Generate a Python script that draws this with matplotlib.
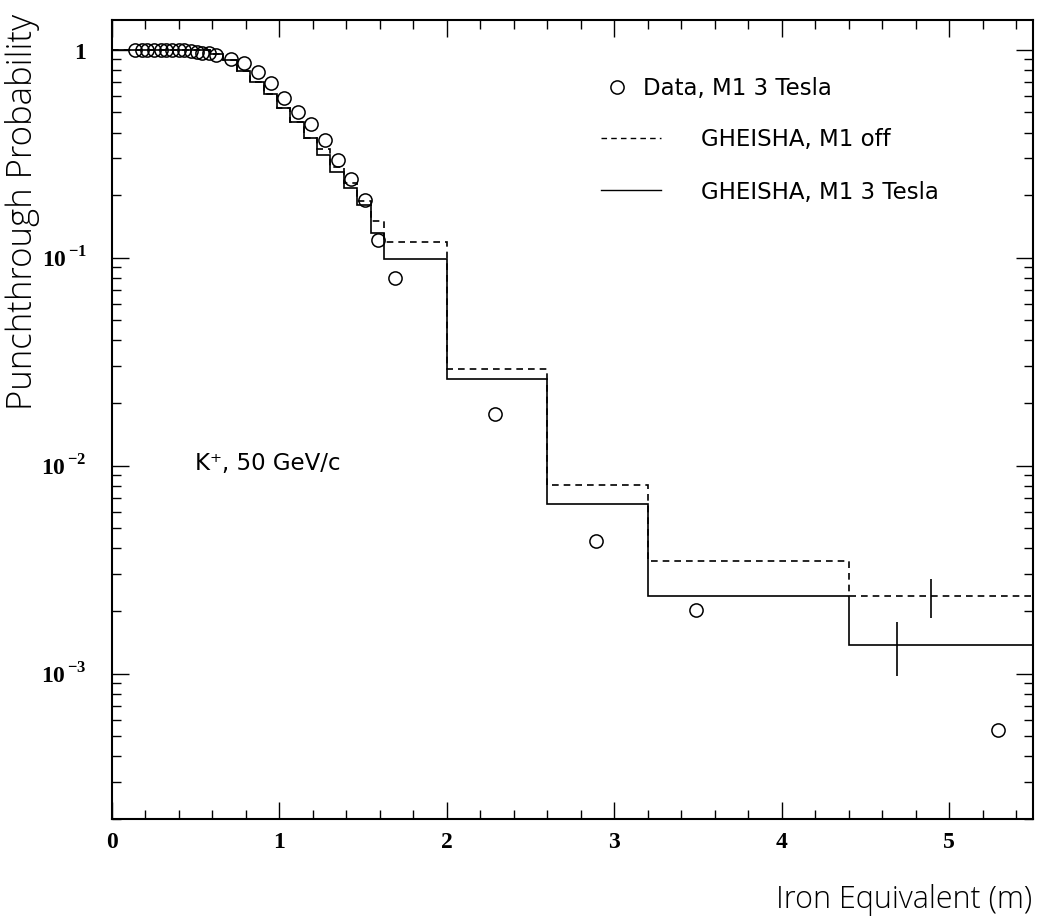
import matplotlib
matplotlib.use("Agg")
import matplotlib.pyplot as plt
from matplotlib.ticker import FixedLocator, FixedFormatter, MultipleLocator, LogLocator, NullFormatter
from matplotlib.lines import Line2D

plt.rcParams["mathtext.fontset"] = "custom"
plt.rcParams["mathtext.rm"] = "Liberation Serif"
plt.rcParams["mathtext.bf"] = "Liberation Serif:bold"

# ==========================================
# DATA
# ==========================================

# measured punchthrough, M1 at 3 Tesla
data_x = [0.14, 0.18, 0.21, 0.25, 0.29, 0.32, 0.36, 0.40, 0.43, 0.47, 0.51, 0.54, 0.58, 0.62,
          0.71, 0.79, 0.87, 0.95, 1.03, 1.11, 1.19, 1.27, 1.35, 1.43, 1.51, 1.59, 1.69,
          2.29, 2.89, 3.49, 5.29]
data_y = [1.0, 1.0, 1.0, 1.0, 1.0, 1.0, 1.0, 1.0, 0.995, 0.99, 0.98, 0.97, 0.96, 0.945,
          0.905, 0.86, 0.784, 0.69, 0.586, 0.50, 0.44, 0.367, 0.296, 0.24, 0.19, 0.121, 0.080,
          0.0177, 0.00436, 0.00203, 0.000537]

# GHEISHA histograms (bin edges shared)
bin_edges = [0.0, 0.585, 0.665, 0.745, 0.825, 0.905, 0.985, 1.065, 1.145, 1.225,
             1.305, 1.385, 1.465, 1.545, 1.625, 2.0, 2.6, 3.2, 4.4, 5.5]
gheisha_3t = [1.0, 0.95, 0.895, 0.786, 0.696, 0.615, 0.524, 0.447, 0.376, 0.313,
              0.258, 0.216, 0.180, 0.131, 0.0985, 0.0261, 0.00657, 0.00235, 0.00138]
gheisha_off = [1.0, 0.95, 0.895, 0.786, 0.696, 0.615, 0.524, 0.447, 0.376, 0.335,
               0.272, 0.228, 0.188, 0.150, 0.119, 0.0292, 0.0081, 0.00347, 0.00235]

# statistical errors on last bin
err_x = [4.69, 4.89]
err_y = [0.00138, 0.00235]
err_lo = [0.00041, 0.00050]
err_hi = [0.00040, 0.00050]

# ==========================================
# PLOT
# ==========================================

fig = plt.figure(figsize=(10.37, 9.22), dpi=100)
ax = fig.add_axes([0.108, 0.1117, 0.888, 0.8666])

ax.stairs(gheisha_off, bin_edges, color="black", linewidth=1.2, linestyle=(0, (4, 3)), baseline=None)
ax.stairs(gheisha_3t, bin_edges, color="black", linewidth=1.2, baseline=None)

ax.plot(data_x, data_y, "o", markersize=9.5, fillstyle="none", markeredgecolor="black",
        markeredgewidth=1.1, linestyle="none")

ax.errorbar(err_x, err_y, yerr=[err_lo, err_hi], fmt="none", ecolor="black", elinewidth=1.2, capsize=0)

ax.set_yscale("log")
ax.set_xlim(0, 5.5)
ax.set_ylim(2.0e-4, 1.39)

ax.xaxis.set_major_locator(MultipleLocator(1))
ax.xaxis.set_minor_locator(MultipleLocator(0.2))

ytick_vals = [1e-3, 1e-2, 1e-1, 1]
ytick_labels = [r"$\mathbf{10}^{\,\mathbf{-3}}$", r"$\mathbf{10}^{\,\mathbf{-2}}$",
                r"$\mathbf{10}^{\,\mathbf{-1}}$", r"$\mathbf{1}$"]
ax.yaxis.set_major_locator(FixedLocator(ytick_vals))
ax.yaxis.set_major_formatter(FixedFormatter(ytick_labels))
ax.yaxis.set_minor_locator(LogLocator(base=10, subs=range(2, 10), numticks=20))
ax.yaxis.set_minor_formatter(NullFormatter())

ax.tick_params(which="both", direction="in", top=True, right=True, width=1.0)
ax.tick_params(which="major", length=12)
ax.tick_params(which="minor", length=6.5)
ax.tick_params(axis="x", which="major", pad=9)
ax.tick_params(axis="y", which="major", pad=18)

for lab in ax.get_xticklabels():
    lab.set_fontfamily("Liberation Serif")
    lab.set_fontweight("bold")
    lab.set_fontsize(17)
for lab in ax.get_yticklabels():
    lab.set_fontsize(17)

for spine in ax.spines.values():
    spine.set_linewidth(1.5)

# legend
leg1 = ax.legend(handles=[Line2D([], [], marker="o", markersize=9.5, fillstyle="none", color="black",
                                 markeredgewidth=1.1, linestyle="none")],
                 labels=["Data, M1 3 Tesla"], loc="upper left", bbox_to_anchor=(0.514, 0.955),
                 frameon=False, handlelength=1.0, handletextpad=0.6,
                 prop={"family": "DejaVu Sans", "size": 16.5})
ax.add_artist(leg1)
ax.legend(handles=[Line2D([], [], color="black", linewidth=1.0, linestyle=(0, (4, 3))),
                   Line2D([], [], color="black", linewidth=1.0)],
          labels=["GHEISHA, M1 off", "GHEISHA, M1 3 Tesla"], loc="upper left",
          bbox_to_anchor=(0.509, 0.891), frameon=False, handlelength=2.6, handletextpad=1.75,
          labelspacing=1.3, prop={"family": "DejaVu Sans", "size": 16.5})

ax.text(0.09, 0.445, "K\u207a, 50 GeV/c", transform=ax.transAxes, fontsize=16.5,
        family="DejaVu Sans", va="center", ha="left")

fig.text(0.022, 0.985, "Punchthrough Probability", rotation=90, ha="center", va="top",
         fontsize=25, family="Open Sans", fontweight="light")
fig.text(0.995, 0.024, "Iron Equivalent (m)", ha="right", va="center",
         fontsize=22, family="Open Sans", fontweight="light")

fig.savefig("out.png", dpi=100)
